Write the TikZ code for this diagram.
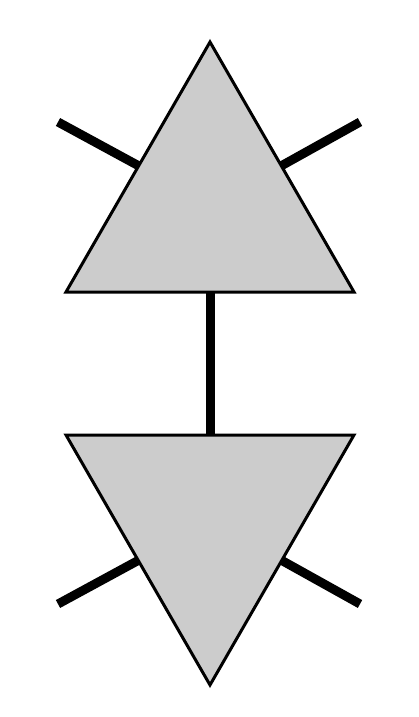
\documentclass[tikz,border=0pt]{standalone}
\begin{document}
\begin{tikzpicture}[x=1pt,y=-1pt,
  tri/.style={draw=black,fill=gray!40,line width=3pt,line join=miter},
  leg/.style={line width=9pt,black}]
\useasboundingbox (0,0) rectangle (418,717);
\coordinate (ua) at (210,42);
\coordinate (ul) at (66,292);
\coordinate (ur) at (354,292);
\coordinate (ll) at (66,435);
\coordinate (lr) at (354,435);
\coordinate (la) at (210,685);
\coordinate (ub) at (210,292);
\coordinate (lt) at (210,435);
\coordinate (e1) at (58,122);
\coordinate (e2) at (360,122);
\coordinate (e3) at (58,604);
\coordinate (e4) at (360,604);
\draw[leg] (e1) -- (139,166);
\draw[leg] (e2) -- (281,166);
\draw[leg] (e3) -- (139,560);
\draw[leg] (e4) -- (281,560);
\draw[leg] (ub) -- (lt);
\draw[tri] (ua) -- (ul) -- (ur) -- cycle;
\draw[tri] (ll) -- (lr) -- (la) -- cycle;
\end{tikzpicture}
\end{document}
